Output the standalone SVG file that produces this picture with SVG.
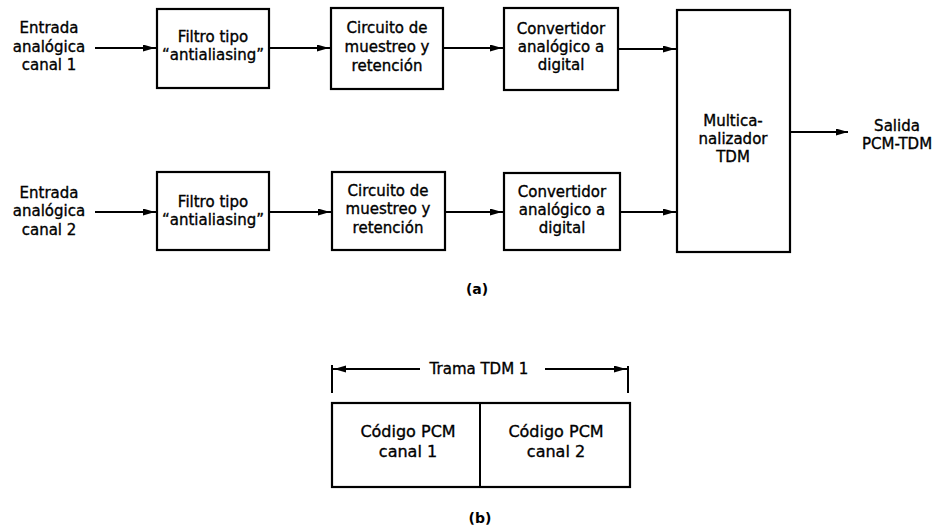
<svg xmlns="http://www.w3.org/2000/svg" width="940" height="530" viewBox="0 0 940 530">
<style>
.box{fill:#fff;stroke:#000;stroke-width:2.2}
.ln{fill:none;stroke:#000;stroke-width:2}
.t{font-family:"DejaVu Sans",sans-serif;font-size:15px;fill:#000;stroke:#000;stroke-width:0.35;text-anchor:middle}
.s{font-family:"DejaVu Sans",sans-serif;font-size:14px;font-weight:bold;fill:#000;text-anchor:middle}
</style>
<defs>
<marker id="ah" markerUnits="userSpaceOnUse" markerWidth="16" markerHeight="8" refX="14" refY="3.5" orient="auto-start-reverse">
<path d="M0,0 L12,3.5 L0,7 z" fill="#000"/>
</marker>
<marker id="ahe" markerUnits="userSpaceOnUse" markerWidth="13" markerHeight="8" refX="12" refY="3.5" orient="auto-start-reverse">
<path d="M0,0 L12,3.5 L0,7 z" fill="#000"/>
</marker>
</defs>
<rect width="940" height="530" fill="#fff"/>
<g id="connectors">
<line class="ln" x1="95" y1="48" x2="157" y2="48" marker-end="url(#ah)"/>
<line class="ln" x1="269" y1="48" x2="331" y2="48" marker-end="url(#ah)"/>
<line class="ln" x1="443" y1="48" x2="504" y2="48" marker-end="url(#ah)"/>
<line class="ln" x1="618" y1="49" x2="677" y2="49" marker-end="url(#ah)"/>
<line class="ln" x1="95" y1="212" x2="157" y2="212" marker-end="url(#ah)"/>
<line class="ln" x1="269" y1="212" x2="332" y2="212" marker-end="url(#ah)"/>
<line class="ln" x1="445" y1="212" x2="504" y2="212" marker-end="url(#ah)"/>
<line class="ln" x1="620" y1="212" x2="677" y2="212" marker-end="url(#ah)"/>
<line class="ln" x1="790" y1="132" x2="848" y2="132" marker-end="url(#ahe)"/>
</g>
<g id="in1">
<text class="t" x="49" y="33">Entrada</text>
<text class="t" x="49" y="52">analógica</text>
<text class="t" x="49" y="70">canal 1</text>
</g>
<g id="in2">
<text class="t" x="49" y="198">Entrada</text>
<text class="t" x="49" y="216">analógica</text>
<text class="t" x="49" y="235">canal 2</text>
</g>
<g id="filtro1">
<rect class="box" x="157" y="9" width="112" height="79"/>
<text class="t" x="213" y="42">Filtro tipo</text>
<text class="t" x="213" y="60">“antialiasing”</text>
</g>
<g id="circuito1">
<rect class="box" x="331" y="8" width="112" height="81"/>
<text class="t" x="387" y="33">Circuito de</text>
<text class="t" x="387" y="52">muestreo y</text>
<text class="t" x="387" y="71">retención</text>
</g>
<g id="convertidor1">
<rect class="box" x="504" y="8" width="114" height="82"/>
<text class="t" x="561" y="34">Convertidor</text>
<text class="t" x="561" y="52">analógico a</text>
<text class="t" x="561" y="70">digital</text>
</g>
<g id="filtro2">
<rect class="box" x="157" y="172" width="112" height="78"/>
<text class="t" x="213" y="207">Filtro tipo</text>
<text class="t" x="213" y="225">“antialiasing”</text>
</g>
<g id="circuito2">
<rect class="box" x="332" y="172" width="113" height="78"/>
<text class="t" x="388" y="196">Circuito de</text>
<text class="t" x="388" y="214">muestreo y</text>
<text class="t" x="388" y="233">retención</text>
</g>
<g id="convertidor2">
<rect class="box" x="504" y="173" width="116" height="77"/>
<text class="t" x="562" y="197">Convertidor</text>
<text class="t" x="562" y="215">analógico a</text>
<text class="t" x="562" y="233">digital</text>
</g>
<g id="mux">
<rect class="box" x="677" y="10" width="113" height="242"/>
<text class="t" x="733" y="126">Multica-</text>
<text class="t" x="733" y="144">nalizador</text>
<text class="t" x="733" y="162">TDM</text>
</g>
<g id="salida">
<text class="t" x="897" y="131">Salida</text>
<text class="t" x="897" y="149">PCM-TDM</text>
</g>
<text class="s" x="477" y="294">(a)</text>
<g id="trama">
<line class="ln" x1="332" y1="365" x2="332" y2="393"/>
<line class="ln" x1="628" y1="366" x2="628" y2="393"/>
<line class="ln" x1="420" y1="369" x2="332" y2="369" marker-end="url(#ah)"/>
<line class="ln" x1="545" y1="369" x2="628" y2="369" marker-end="url(#ah)"/>
<text class="t" x="479" y="374">Trama TDM 1</text>
</g>
<g id="frame">
<rect class="box" x="332" y="403" width="298" height="84"/>
<line class="ln" x1="480" y1="403" x2="480" y2="487"/>
<text class="t" x="408" y="437" style="font-size:16px">Código PCM</text>
<text class="t" x="408" y="457" style="font-size:16px">canal 1</text>
<text class="t" x="556" y="437" style="font-size:16px">Código PCM</text>
<text class="t" x="556" y="457" style="font-size:16px">canal 2</text>
</g>
<text class="s" x="480" y="523">(b)</text>
</svg>
